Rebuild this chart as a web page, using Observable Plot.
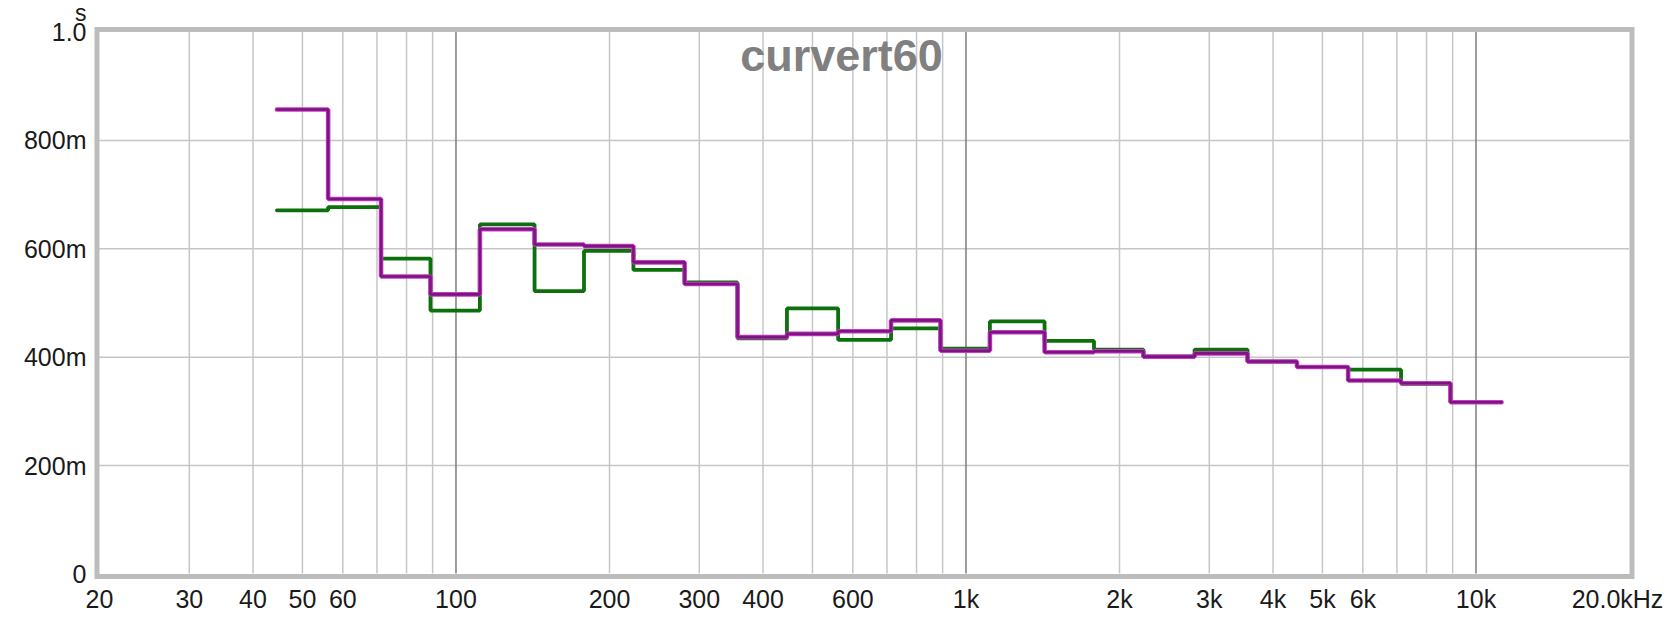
<!DOCTYPE html>
<html><head><meta charset="utf-8">
<script src="https://cdn.jsdelivr.net/npm/d3@7"></script>
<script src="https://cdn.jsdelivr.net/npm/@observablehq/plot@0.6"></script>
<style>
html,body{margin:0;padding:0;background:#fff;}
</style></head><body><div id="chart"></div>
<script>
// Third-octave band centres (Hz)
const bands = [50, 63, 80, 100, 125, 160, 200, 250, 315, 400, 500, 630, 800, 1000, 1250, 1600, 2000, 2500, 3150, 4000, 5000, 6300, 8000, 10000];
// RT60 (s) per band
const green  = [0.671, 0.677, 0.582, 0.486, 0.645, 0.522, 0.596, 0.561, 0.538, 0.435, 0.490, 0.432, 0.453, 0.416, 0.466, 0.430, 0.414, 0.401, 0.414, 0.392, 0.382, 0.377, 0.351, 0.317];
const purple = [0.857, 0.692, 0.549, 0.516, 0.636, 0.608, 0.605, 0.575, 0.535, 0.437, 0.443, 0.448, 0.468, 0.412, 0.446, 0.409, 0.411, 0.401, 0.407, 0.392, 0.382, 0.357, 0.352, 0.317];

const yTicks = [0, 0.2, 0.4, 0.6, 0.8, 1.0];
const yTickLabels = ["0", "200m", "400m", "600m", "800m", "1.0"];
const xTicks = [20, 30, 40, 50, 60, 80, 100, 200, 300, 400, 600, 800, 1000, 2000, 3000, 4000, 5000, 6000, 8000, 10000];
const xTickLabels = ["20", "30", "40", "50", "60", "80", "100", "200", "300", "400", "600", "800", "1k", "2k", "3k", "4k", "5k", "6k", "8k", "10k"];
const xGridMinor = [30, 40, 50, 60, 70, 80, 90, 200, 300, 400, 500, 600, 700, 800, 900, 2000, 3000, 4000, 5000, 6000, 7000, 8000, 9000];
const xGridMajor = [100, 1000, 10000];
const yGrid = [0.2, 0.4, 0.6, 0.8];
const xEnd = 20000;
const xEndLabel = "20.0kHz";
const yUnit = "s";
const title = "curvert60";

const half = Math.pow(10, 0.05); // half third-octave band width factor
function steps(vals) {
  const pts = bands.map((f, i) => ({f: f / half, v: vals[i]}));
  pts.push({f: bands[bands.length - 1] * half, v: vals[vals.length - 1]});
  return pts;
}
const yMap = new Map(yTicks.map((d, i) => [d, yTickLabels[i]]));
const xMap = new Map(xTicks.map((d, i) => [d, xTickLabels[i]]));

const font = "'Liberation Sans', Arial, sans-serif";
const chart = Plot.plot({
  width: 1677,
  height: 617,
  marginLeft: 99,
  marginRight: 48,
  marginTop: 31.5,
  marginBottom: 43.5,
  style: {fontFamily: font, fontSize: "25px", color: "#1a1a1a", background: "#fff"},
  x: {type: "log", domain: [20, 20000], axis: null},
  y: {domain: [0, 1], axis: null},
  marks: [
    Plot.ruleY(yGrid, {stroke: "#c6c6c6", strokeWidth: 1.5}),
    Plot.ruleX(xGridMinor, {stroke: "#c6c6c6", strokeWidth: 1.5}),
    Plot.ruleX(xGridMajor, {stroke: "#7d7d7d", strokeWidth: 1.5}),
    Plot.frame({stroke: "#bcbcbc", strokeWidth: 5, inset: -2.5}),
    Plot.axisY(yTicks, {tickSize: 0, tickPadding: 13, tickFormat: d => yMap.get(d), label: null, fontSize: 25, dy: 1}),
    Plot.axisX(xTicks, {tickSize: 0, tickPadding: 16, tickFormat: d => xMap.get(d), label: null, fontSize: 25}),
    Plot.text([xEnd], {x: d => d, frameAnchor: "bottom", lineAnchor: "top", dy: 16, dx: -12, text: () => xEndLabel, fontSize: 25}),
    Plot.text([yUnit], {frameAnchor: "top-left", textAnchor: "end", lineAnchor: "bottom", dx: -13, dy: -11, fontSize: 23}),
    Plot.text([title], {frameAnchor: "top", lineAnchor: "top", dx: -23, dy: 7, fontSize: 45, fontWeight: "bold", fill: "#808080"}),
    Plot.line(steps(green), {x: "f", y: "v", curve: "step-after", stroke: "#0d700d", strokeWidth: 3.8, strokeLinejoin: "miter"}),
    Plot.line(steps(purple), {x: "f", y: "v", curve: "step-after", stroke: "#c73ac7", strokeWidth: 4.6, strokeLinejoin: "miter"}),
    Plot.line(steps(purple), {x: "f", y: "v", curve: "step-after", stroke: "#7c157f", strokeWidth: 2.6, strokeLinejoin: "miter"})
  ]
});
document.getElementById("chart").appendChild(chart);
</script>
</body></html>
